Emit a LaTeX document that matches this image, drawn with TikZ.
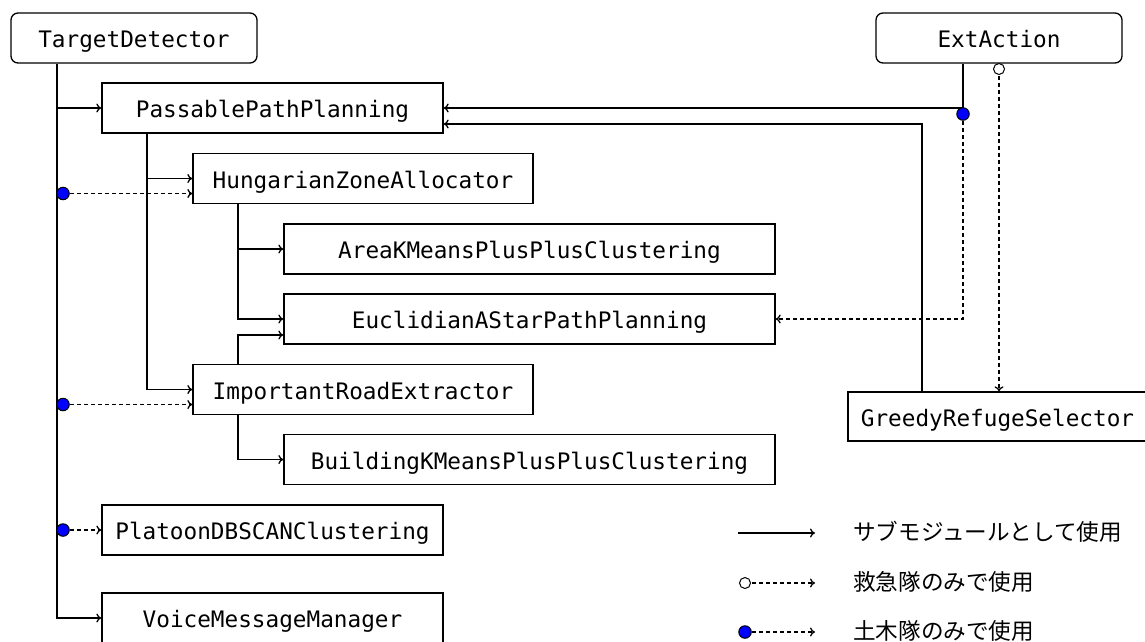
\documentclass[tikz,border=0pt]{standalone}
\usepackage{fontspec}
\setmonofont{DejaVu Sans Mono}
\newfontfamily\jpfont{Noto Sans CJK JP}
\usetikzlibrary{arrows.meta,calc}

\begin{document}
\begin{tikzpicture}[x=1pt,y=-1pt,
  every node/.style={font=\ttfamily\fontsize{22.7}{27}\selectfont},
  module/.style={draw, line width=1.3pt, inner sep=0pt, minimum height=50pt,
                 text height=19pt, text depth=0pt},
  rmodule/.style={module, rounded corners=7pt},
  sub/.style={line width=1.3pt, -{Computer Modern Rightarrow[length=5pt,width=9pt]}},
  opt/.style={sub, dash pattern=on 4pt off 3pt},
  civil/.style={circle, draw, line width=1pt, fill=blue, inner sep=0pt, minimum size=12.5pt},
  rescue/.style={circle, draw, line width=1pt, fill=white, inner sep=0pt, minimum size=11pt},
  legend/.style={anchor=west, inner sep=0pt, font=\jpfont\fontsize{22.6}{27}\selectfont},
]
\useasboundingbox (0,0) rectangle (1145,641);

% modules
\node[rmodule, minimum width=246pt] (td)  at (134,38)    {TargetDetector};
\node[rmodule, minimum width=246pt] (ext) at (999,38)    {ExtAction};
\node[module, minimum width=341pt]  (ppp) at (272.5,108) {PassablePathPlanning};
\node[module, minimum width=340pt]  (hza) at (363,178.5) {HungarianZoneAllocator};
\node[module, minimum width=491pt]  (akm) at (529.5,249) {AreaKMeansPlusPlusClustering};
\node[module, minimum width=491pt]  (eas) at (529.5,319) {EuclidianAStarPathPlanning};
\node[module, minimum width=340pt]  (irx) at (363,389.5) {ImportantRoadExtractor};
\node[module, minimum width=491pt]  (bkm) at (529.5,459.5) {BuildingKMeansPlusPlusClustering};
\node[module, minimum width=341pt]  (pdc) at (272.5,530) {PlatoonDBSCANClustering};
\node[module, minimum width=341pt]  (vmm) at (272.5,618) {VoiceMessageManager};
\node[module, minimum width=299pt, minimum height=49pt] (grs) at (997.5,416.5) {GreedyRefugeSelector};

% trunk positions
\coordinate (tA) at (57,0);
\coordinate (tB) at (147,0);
\coordinate (tC) at (238,0);
\coordinate (tE) at (963,0);
\coordinate (tG) at (922,0);

% dot positions
\coordinate (dA) at (63,193.5);
\coordinate (dB) at (63,404.5);
\coordinate (dC) at (63,530);
\coordinate (dE) at (963,114);
\coordinate (cR) at (999,69);

% TargetDetector submodules
\draw[sub] (td.south -| tA) |- (vmm.west);
\draw[sub] (tA |- ppp.west) -- (ppp.west);
\draw[opt] (dA) -- (dA -| hza.west);
\draw[opt] (dB) -- (dB -| irx.west);
\draw[opt] (dC) -- (pdc.west);

% PassablePathPlanning submodules
\draw[sub] (ppp.south -| tB) |- (irx.west);
\draw[sub] (tB |- hza.west) -- (hza.west);

% HungarianZoneAllocator submodules
\draw[sub] (hza.south -| tC) |- (eas.west);
\draw[sub] (tC |- akm.west) -- (akm.west);

% ImportantRoadExtractor submodules
\draw[sub] (irx.north -| tC) |- ($(eas.west)+(0,16)$);
\draw[sub] (irx.south -| tC) |- (bkm.west);

% ExtAction submodules
\draw[sub] (ext.south -| tE) |- (ppp.east);
\draw[opt] (dE) |- (eas.east);
\draw[opt] (cR) -- (cR |- grs.north);

% GreedyRefugeSelector submodule
\draw[sub] (grs.north -| tG) |- ($(ppp.east)+(0,16)$);

% markers
\node[civil] (mA) at (dA) {};
\node[civil] (mB) at (dB) {};
\node[civil] (mC) at (dC) {};
\node[civil] (mE) at (dE) {};
\node[rescue] (mR) at (cR) {};

% legend
\coordinate (la) at (738,533);
\coordinate (lb) at (815,533);
\draw[sub] (la) -- (lb);
\node[legend] (ta) at (853,532) {サブモジュールとして使用};

\coordinate (lc) at (745,583);
\coordinate (ld) at (815,583);
\draw[opt] (lc) -- (ld);
\node[rescue] (mL1) at (lc) {};
\node[legend] (tb) at (853,582) {救急隊のみで使用};

\coordinate (le) at (745,632);
\coordinate (lf) at (815,632);
\draw[opt] (le) -- (lf);
\node[civil] (mL2) at (le) {};
\node[legend] (tc) at (853,631) {土木隊のみで使用};
\end{tikzpicture}
\end{document}
